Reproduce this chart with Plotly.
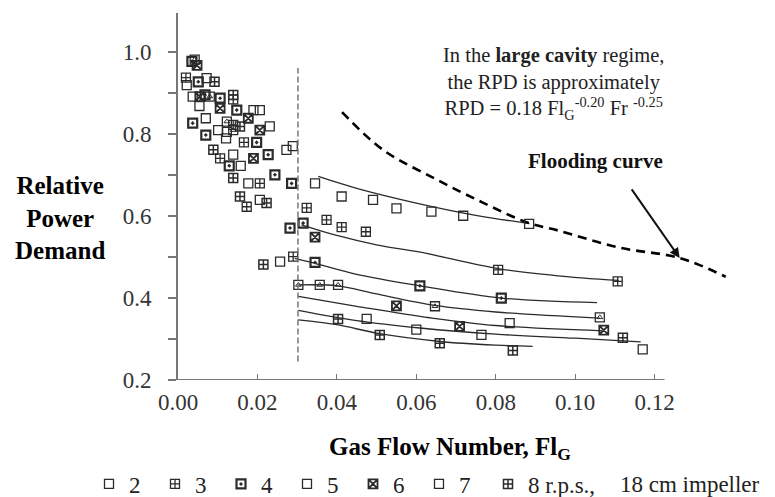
import plotly.graph_objects as go

FONT = "Liberation Serif"
INK = "#2b2b2b"

# measured points, one list per impeller speed (r.p.s.)
speeds = ["2", "3", "4", "5", "6", "7", "8 r.p.s.,"]

x_2 = [0.0022, 0.0037, 0.0070, 0.0206, 0.0123, 0.0121, 0.0139, 0.0289, 0.0177,
       0.0345, 0.0412, 0.0491, 0.0550, 0.0638, 0.0718, 0.0884]
y_2 = [0.920, 0.892, 0.839, 0.859, 0.806, 0.790, 0.750, 0.771, 0.680,
       0.680, 0.648, 0.640, 0.619, 0.611, 0.601, 0.581]

x_3 = [0.0020, 0.0139, 0.0139, 0.0166, 0.0106, 0.0206, 0.0173, 0.0324, 0.0290,
       0.0374, 0.0412, 0.0473, 0.0806, 0.1107]
y_3 = [0.938, 0.885, 0.823, 0.780, 0.741, 0.680, 0.623, 0.620, 0.501,
       0.591, 0.573, 0.562, 0.469, 0.441]

x_4 = [0.0035, 0.0051, 0.0068, 0.0106, 0.0037, 0.0148, 0.0070, 0.0198, 0.0227,
       0.0129, 0.0244, 0.0286, 0.0282, 0.0315, 0.0345, 0.0609, 0.0814]
y_4 = [0.978, 0.928, 0.896, 0.888, 0.827, 0.859, 0.798, 0.780, 0.750,
       0.723, 0.701, 0.680, 0.571, 0.583, 0.487, 0.430, 0.400]

x_5 = [0.0042, 0.0080, 0.0123, 0.0139, 0.0303, 0.0357, 0.0403, 0.0647, 0.1062]
y_5 = [0.982, 0.892, 0.831, 0.810, 0.432, 0.432, 0.432, 0.380, 0.353]

x_6 = [0.0048, 0.0055, 0.0106, 0.0177, 0.0206, 0.0190, 0.0345, 0.0550, 0.0709, 0.1072]
y_6 = [0.968, 0.892, 0.863, 0.839, 0.810, 0.741, 0.549, 0.381, 0.331, 0.322]

x_7 = [0.0072, 0.0054, 0.0190, 0.0101, 0.0231, 0.0273, 0.0158, 0.0206, 0.0257,
       0.0475, 0.0600, 0.0764, 0.0835, 0.1170]
y_7 = [0.937, 0.869, 0.859, 0.810, 0.819, 0.762, 0.723, 0.640, 0.489,
       0.349, 0.323, 0.310, 0.339, 0.275]

x_8 = [0.0092, 0.0139, 0.0156, 0.0089, 0.0139, 0.0156, 0.0223, 0.0215,
       0.0403, 0.0508, 0.0659, 0.0843, 0.1120]
y_8 = [0.928, 0.896, 0.819, 0.762, 0.693, 0.648, 0.632, 0.482,
       0.349, 0.310, 0.290, 0.272, 0.303]

# correlation lines in the large cavity regime
fit_x = [
    [0.0353, 0.045, 0.060, 0.075, 0.0885],
    [0.0311, 0.040, 0.050, 0.061, 0.0806, 0.095, 0.111],
    [0.0294, 0.0345, 0.045, 0.0609, 0.0814, 0.1055],
    [0.0303, 0.0403, 0.050, 0.0647, 0.080, 0.1062],
    [0.0303, 0.045, 0.0634, 0.080, 0.107],
    [0.0303, 0.045, 0.0609, 0.080, 0.100, 0.1165],
    [0.0303, 0.040, 0.0508, 0.0659, 0.080, 0.0893],
]
fit_y = [
    [0.697, 0.668, 0.632, 0.602, 0.582],
    [0.579, 0.553, 0.530, 0.512, 0.472, 0.455, 0.443],
    [0.497, 0.485, 0.458, 0.430, 0.400, 0.389],
    [0.432, 0.430, 0.410, 0.382, 0.366, 0.351],
    [0.404, 0.380, 0.352, 0.333, 0.320],
    [0.370, 0.345, 0.327, 0.312, 0.302, 0.293],
    [0.347, 0.335, 0.313, 0.294, 0.285, 0.282],
]

# flooding curve
flood_x = [0.0413, 0.0516, 0.065, 0.077, 0.0881, 0.0961, 0.1112, 0.1263, 0.1379]
flood_y = [0.854, 0.762, 0.690, 0.632, 0.584, 0.564, 0.523, 0.498, 0.452]

y_ticks = [0.2, 0.3, 0.4, 0.5, 0.6, 0.7, 0.8, 0.9, 1.0]
y_ticktext = ["0.2", "", "0.4", "", "0.6", "", "0.8", "", "1.0"]
x_ticks = [0.0, 0.02, 0.04, 0.06, 0.08, 0.10, 0.12]
x_ticktext = ["0.00", "0.02", "0.04", "0.06", "0.08", "0.10", "0.12"]

symbols = ["square-open", "square-cross-open", "square-open-dot", "square-open",
           "square-x-open", "square-open", "square-cross-open"]
widths = [1.3, 1.3, 2.2, 1.3, 1.8, 1.3, 1.5]

# the page has an 8px body margin, so the figure is 8px smaller than the window
W, H = 767, 489


def px(x, y):
    # reference pixel position -> paper coords (plot area 178..742 x 13..380)
    return (x - 178) / 564, (380 - y) / 367


fig = go.Figure()

for fx, fy in zip(fit_x, fit_y):
    fig.add_trace(go.Scatter(x=fx, y=fy, mode="lines", line=dict(color=INK, width=1.3),
                             line_shape="spline", showlegend=False, hoverinfo="skip"))

fig.add_trace(go.Scatter(x=flood_x, y=flood_y, mode="lines", line_shape="spline",
                         line=dict(color="black", width=2.6, dash="9px,6px"),
                         showlegend=False, hoverinfo="skip"))

all_x = [x_2, x_3, x_4, x_5, x_6, x_7, x_8]
all_y = [y_2, y_3, y_4, y_5, y_6, y_7, y_8]
for i, (name, xs, ys, sym, w) in enumerate(zip(speeds, all_x, all_y, symbols, widths)):
    fig.add_trace(go.Scatter(x=xs, y=ys, mode="markers", name=name,
                             legend="legend2" if i == 6 else "legend",
                             marker=dict(symbol=sym, size=9, color=INK,
                                         line=dict(color=INK, width=w))))
# triangle inside the squares of the 5 r.p.s. series
fig.add_trace(go.Scatter(x=x_5, y=y_5, mode="markers", showlegend=False,
                         marker=dict(symbol="triangle-up-open", size=5, color=INK,
                                     line=dict(color=INK, width=1))))

# x axis line stops at 0.1225, the flooding curve runs past it
fig.add_shape(type="line", x0=0, x1=0.1225, y0=0.2, y1=0.2, xref="x", yref="y",
              line=dict(color="#777", width=2))
# transition to large cavity regime
fig.add_shape(type="line", x0=0.0302, x1=0.0302, y0=0.245, y1=0.962, xref="x", yref="y",
              line=dict(color="#777", width=1.5, dash="6px,3px"))


def label(x, y, text, size, color="#222"):
    ax_, ay_ = px(x, y)
    fig.add_annotation(x=ax_, y=ay_, xref="paper", yref="paper", showarrow=False,
                       xanchor="center", yanchor="middle", align="center", text=text,
                       font=dict(family=FONT, size=size, color=color))


label(60, 218, "<b>Relative<br>Power<br>Demand</b>", 25, "black")
label(450, 448, "<b>Gas Flow Number, Fl<sub>G</sub></b>", 25, "black")
label(553, 83, "In the <b>large cavity</b> regime,<br>the RPD is approximately<br>"
               "RPD = 0.18 Fl<sub>G</sub><sup>-0.20</sup> Fr <sup>-0.25</sup>", 20.5)
label(595, 161, "<b>Flooding curve</b>", 21, "#111")
label(690, 484, "18 cm impeller", 23)

fig.add_annotation(x=0.1263, y=0.498, xref="x", yref="y", text="", showarrow=True,
                   ax=-49, ay=-70, arrowhead=2, arrowsize=1, arrowwidth=2, arrowcolor="#111")

lx, ly = px(89, 484)
lx2, _ = px(488, 484)
leg_font = dict(family=FONT, size=23, color="#222")
fig.update_layout(
    width=W, height=H,
    margin=dict(l=170, r=W - 734, t=5, b=H - 372, autoexpand=False),
    plot_bgcolor="white", paper_bgcolor="white",
    font=dict(family=FONT, size=23, color="#333"),
    legend=dict(orientation="h", x=lx, xanchor="left", y=ly, yanchor="middle",
                entrywidth=21, entrywidthmode="pixels",
                font=leg_font, bgcolor="rgba(0,0,0,0)"),
    legend2=dict(orientation="h", x=lx2, xanchor="left", y=ly, yanchor="middle",
                 font=leg_font, bgcolor="rgba(0,0,0,0)"),
    xaxis=dict(range=[0, 0.142], tickvals=x_ticks, ticktext=x_ticktext,
               showline=False, showgrid=False, zeroline=False,
               ticks="inside", ticklen=6, tickcolor="#777",
               ticklabelstandoff=6,
               tickfont=dict(family=FONT, size=23, color="#333")),
    yaxis=dict(range=[0.2, 1.096], tickvals=y_ticks, ticktext=y_ticktext,
               showline=True, linecolor="#777", linewidth=2,
               showgrid=False, zeroline=False,
               ticks="outside", ticklen=8, tickcolor="#777", tickwidth=1.5,
               ticklabelstandoff=12,
               tickfont=dict(family=FONT, size=23, color="#333")),
)

fig.write_html("out.html")
